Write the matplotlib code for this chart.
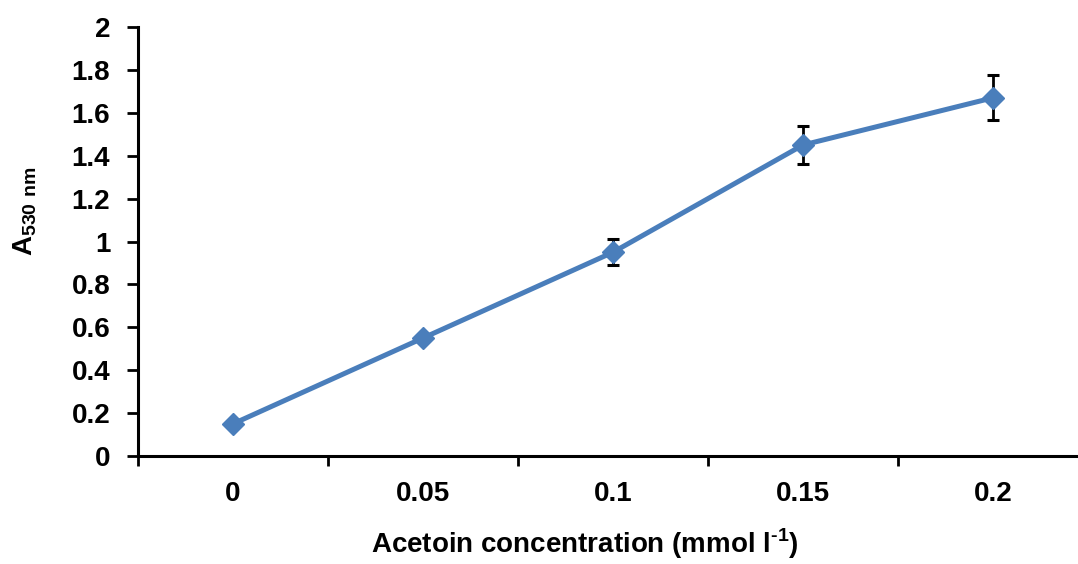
import numpy as np
import matplotlib
matplotlib.use("Agg")
import matplotlib.pyplot as plt
from matplotlib.ticker import FixedLocator, NullFormatter, FixedFormatter

plt.rcParams['font.family'] = ['Liberation Sans', 'DejaVu Sans']
plt.rcParams['font.weight'] = 'bold'
plt.rcParams['mathtext.fontset'] = 'custom'
plt.rcParams['mathtext.rm'] = 'Liberation Sans:bold'
plt.rcParams['mathtext.bf'] = 'Liberation Sans:bold'

# data
concentration = ['0', '0.05', '0.1', '0.15', '0.2']
absorbance = [0.15, 0.55, 0.95, 1.45, 1.67]
abs_err = [0.01, 0.01, 0.06, 0.09, 0.105]
y_ticks = [0, 0.2, 0.4, 0.6, 0.8, 1, 1.2, 1.4, 1.6, 1.8, 2]
y_ticklabels = ['0', '0.2', '0.4', '0.6', '0.8', '1', '1.2', '1.4', '1.6', '1.8', '2']

blue = '#4A7EBB'

fig = plt.figure(figsize=(10.78, 5.64), dpi=100)
ax = fig.add_axes([0.128, 0.1915, 0.8813, 0.7606])

x = np.arange(len(concentration))
ax.errorbar(x, absorbance, yerr=abs_err, fmt='none', ecolor='black',
            elinewidth=2, capsize=4.5, capthick=2.2, zorder=2)
ax.plot(x, absorbance, color=blue, linewidth=3.6, marker='D',
        markersize=11, markerfacecolor=blue, markeredgecolor=blue, zorder=3)

ax.set_xlim(-0.5, len(concentration) - 0.5)
ax.set_ylim(0, 2)

# category axis: ticks on the boundaries, labels in the middle
ax.xaxis.set_major_locator(FixedLocator(np.arange(-0.5, len(concentration), 1.0)))
ax.xaxis.set_major_formatter(NullFormatter())
ax.xaxis.set_minor_locator(FixedLocator(x))
ax.xaxis.set_minor_formatter(FixedFormatter(concentration))
ax.tick_params(axis='x', which='major', direction='out', length=7, width=2)
ax.tick_params(axis='x', which='minor', length=0, pad=18, labelsize=20)

ax.set_yticks(y_ticks)
ax.set_yticklabels(y_ticklabels)
ax.tick_params(axis='y', direction='out', length=8, width=2, pad=12, labelsize=20)

for side in ['top', 'right']:
    ax.spines[side].set_visible(False)
for side in ['left', 'bottom']:
    ax.spines[side].set_linewidth(2.2)

ax.set_xlabel(r'Acetoin concentration (mmol l$^{\text{-1}}$)', fontsize=20, fontweight='bold')
ax.xaxis.set_label_coords(0.47, -0.205)
ax.xaxis.label.set_va('center')

ax.set_ylabel(r'$\mathbf{A}_{\mathbf{530\ nm}}$', fontsize=20)
ax.yaxis.set_label_coords(-0.119, 0.571)
ax.yaxis.label.set_va('center')

fig.savefig('out.png', dpi=100)
